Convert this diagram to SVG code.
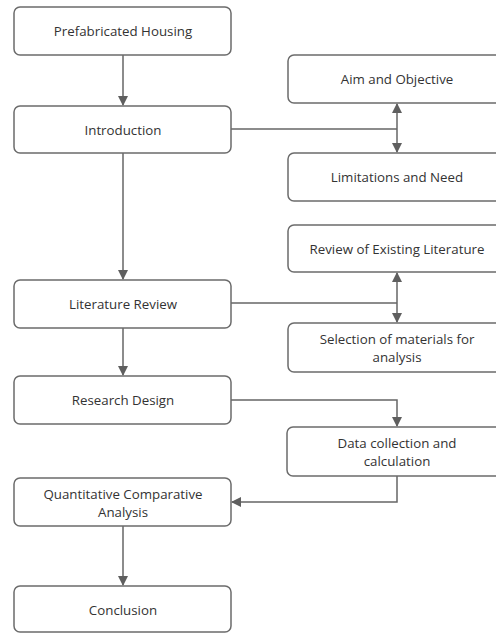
<svg xmlns="http://www.w3.org/2000/svg" width="496" height="633" viewBox="0 0 496 633">
<style>
.box{fill:#fff;stroke:#6b6b6b;stroke-width:1.5}
.t{font-family:"Open Sans","Noto Sans","Liberation Sans",sans-serif;font-size:13.3px;fill:#333;text-anchor:middle;dominant-baseline:central}
.c{fill:none;stroke:#666;stroke-width:1.5}
</style>
<defs>
<marker id="ah" markerWidth="10" markerHeight="10" refX="9" refY="5" orient="auto" markerUnits="userSpaceOnUse">
<path d="M0,0 L10,5 L0,10 Z" fill="#5f5f5f"/>
</marker>
<marker id="as" markerWidth="10" markerHeight="10" refX="1" refY="5" orient="auto" markerUnits="userSpaceOnUse">
<path d="M10,0 L0,5 L10,10 Z" fill="#5f5f5f"/>
</marker>
</defs>
<g id="connectors">
<path class="c" d="M123,55 V105" marker-end="url(#ah)"/>
<path class="c" d="M231,129 H397"/>
<path class="c" d="M397,104 V152" marker-start="url(#as)" marker-end="url(#ah)"/>
<path class="c" d="M123,153 V279" marker-end="url(#ah)"/>
<path class="c" d="M231,303 H397"/>
<path class="c" d="M397,273 V322" marker-start="url(#as)" marker-end="url(#ah)"/>
<path class="c" d="M123,328 V375" marker-end="url(#ah)"/>
<path class="c" d="M231,400 H397 V426" marker-end="url(#ah)"/>
<path class="c" d="M397,476 V502 H232" marker-end="url(#ah)"/>
<path class="c" d="M123,526 V585" marker-end="url(#ah)"/>
</g>
<g id="prefab"><rect class="box" x="14" y="7" width="217" height="48" rx="6"/><text class="t" x="123" y="31">Prefabricated Housing</text></g>
<g id="intro"><rect class="box" x="14" y="106" width="217" height="47" rx="6"/><text class="t" x="123" y="130">Introduction</text></g>
<g id="aim"><rect class="box" x="288" y="55" width="218" height="48" rx="6"/><text class="t" x="397" y="79">Aim and Objective</text></g>
<g id="limits"><rect class="box" x="288" y="153" width="218" height="48" rx="6"/><text class="t" x="397" y="177">Limitations and Need</text></g>
<g id="litreview"><rect class="box" x="14" y="280" width="217" height="48" rx="6"/><text class="t" x="123" y="304">Literature Review</text></g>
<g id="existing"><rect class="box" x="288" y="225" width="218" height="47" rx="6"/><text class="t" x="397" y="249">Review of Existing Literature</text></g>
<g id="selection"><rect class="box" x="288" y="323" width="218" height="49" rx="6"/><text class="t" x="397" y="338.5">Selection of materials for</text><text class="t" x="397" y="357">analysis</text></g>
<g id="research"><rect class="box" x="14" y="376" width="217" height="48" rx="6"/><text class="t" x="123" y="400">Research Design</text></g>
<g id="data"><rect class="box" x="287" y="427" width="219" height="49" rx="6"/><text class="t" x="397" y="442.5">Data collection and</text><text class="t" x="397" y="461">calculation</text></g>
<g id="quant"><rect class="box" x="14" y="478" width="217" height="48" rx="6"/><text class="t" x="123" y="493.5">Quantitative Comparative</text><text class="t" x="123" y="512">Analysis</text></g>
<g id="conclusion"><rect class="box" x="14" y="586" width="217" height="46" rx="6"/><text class="t" x="123" y="610">Conclusion</text></g>
</svg>
